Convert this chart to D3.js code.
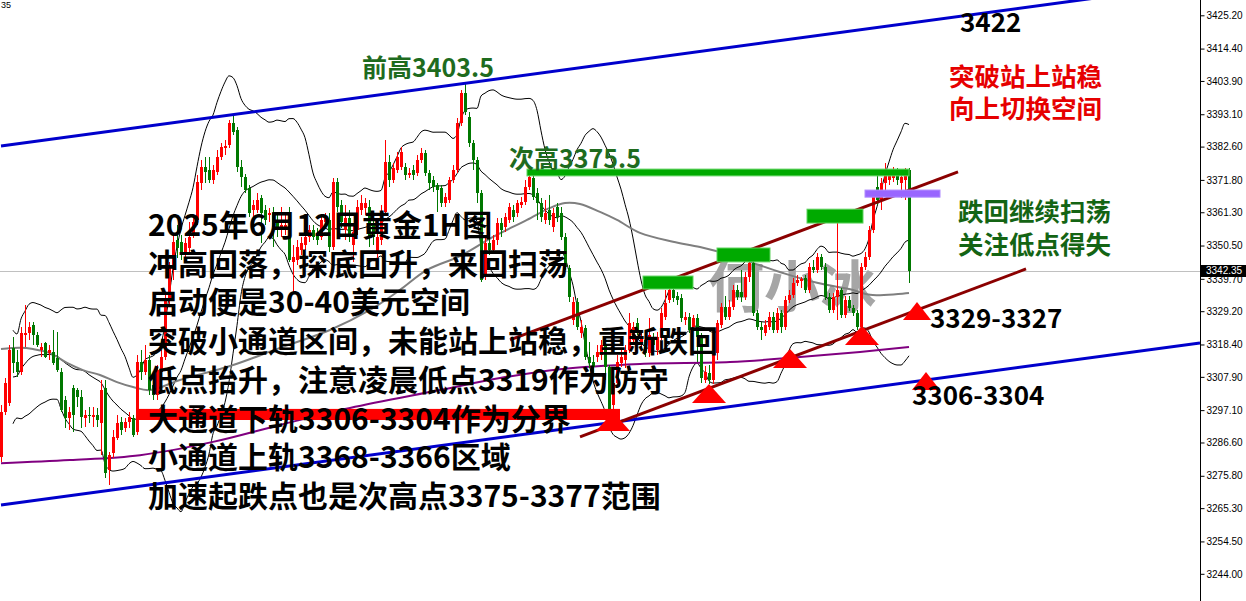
<!DOCTYPE html>
<html><head><meta charset="utf-8">
<script src="https://cdn.jsdelivr.net/npm/d3@7"></script>
<style>
html,body{margin:0;padding:0;background:#fff;overflow:hidden}
svg{display:block}
</style></head><body>
<svg id="c" width="1246" height="601"></svg>
<script>
// ---- candle data (XAUUSD H1) ----
const opens=[3281.9,3296.5,3299.4,3317.3,3312.7,3309.5,3321.5,3322.1,3324.7,3321.5,3316.6,3318.9,3315.6,3316.0,3314.0,3309.5,3300.4,3294.5,3304.3,3303.6,
3301.4,3294.5,3295.5,3294.9,3295.5,3292.9,3304.3,3277.7,3283.2,3288.1,3293.2,3291.3,3293.2,3294.5,3290.0,3312.7,3309.5,3313.4,3305.3,3302.0,
3309.5,3314.3,3332.8,3342.6,3352.3,3351.7,3348.1,3349.7,3353.9,3358.8,3370.8,3376.0,3375.0,3371.8,3374.4,3379.2,3382.1,3383.1,3390.3,3388.0,
3376.0,3372.7,3369.2,3362.0,3362.0,3365.9,3362.0,3360.4,3361.1,3358.1,3355.5,3356.2,3353.3,3345.2,3345.8,3349.1,3350.7,3353.3,3355.5,3354.6,
3353.3,3358.1,3358.8,3350.0,3371.1,3363.7,3355.5,3359.4,3350.7,3355.5,3362.0,3362.7,3363.0,3357.2,3348.1,3352.3,3361.4,3377.6,3371.8,3375.0,
3376.0,3376.0,3373.4,3375.0,3374.0,3378.3,3380.5,3374.0,3371.8,3370.1,3369.2,3364.3,3365.3,3371.8,3375.0,3390.3,3400.0,3392.2,3383.8,3378.3,
3367.5,3340.9,3351.3,3349.1,3352.3,3357.8,3356.5,3358.8,3362.0,3361.1,3363.7,3364.6,3369.5,3372.4,3367.5,3364.3,3358.8,3362.0,3356.5,3363.0,
3361.1,3353.3,3343.2,3326.3,3332.2,3322.1,3323.8,3314.3,3312.7,3314.3,3315.0,3318.2,3311.1,3298.8,3305.9,3312.4,3313.4,3316.6,3319.9,3325.4,
3318.9,3319.9,3315.6,3320.5,3316.6,3320.8,3327.3,3332.8,3336.1,3334.1,3333.5,3326.3,3327.3,3324.1,3327.0,3320.8,3306.9,3309.1,3306.9,3315.6,
3324.7,3330.6,3327.3,3330.6,3336.1,3335.4,3333.8,3340.3,3344.8,3328.6,3324.1,3322.1,3324.1,3327.3,3323.1,3328.6,3324.1,3332.8,3334.5,3338.4,
3339.0,3339.9,3336.1,3343.5,3342.6,3346.8,3343.5,3333.8,3329.6,3333.8,3336.1,3328.0,3332.8,3330.2,3328.6,3324.1,3343.5,3346.8,3355.5,3369.5,
3365.3,3370.8,3371.8,3372.4,3374.4,3370.8,3371.8,3375.0];
const highs=[3298.8,3307.5,3318.2,3320.8,3316.6,3324.1,3331.2,3325.7,3325.7,3322.5,3318.9,3319.2,3318.2,3323.1,3322.5,3310.8,3301.7,3298.1,3305.3,3304.3,
3303.6,3297.1,3298.1,3298.1,3297.8,3306.9,3306.9,3283.5,3290.7,3295.5,3294.9,3294.5,3296.5,3295.5,3315.0,3316.6,3318.2,3315.0,3308.5,3311.7,
3316.6,3334.5,3345.2,3353.9,3357.2,3353.9,3352.9,3358.1,3360.4,3373.4,3378.3,3379.2,3379.2,3376.6,3381.5,3383.8,3384.7,3391.2,3392.5,3389.0,
3378.3,3373.7,3370.1,3365.3,3367.5,3366.9,3363.7,3362.7,3363.0,3360.4,3363.0,3361.4,3363.0,3350.7,3352.3,3353.3,3355.5,3357.2,3357.2,3356.2,
3360.4,3361.1,3361.1,3372.4,3372.4,3365.3,3363.7,3362.0,3357.2,3365.3,3366.9,3365.9,3365.3,3358.8,3354.6,3363.7,3384.7,3379.9,3377.3,3380.8,
3382.5,3377.3,3375.7,3376.6,3379.9,3382.1,3381.5,3375.0,3373.1,3370.8,3370.1,3367.5,3372.7,3376.6,3391.9,3401.0,3403.5,3393.8,3384.7,3379.2,
3368.5,3352.9,3354.9,3353.9,3359.4,3359.4,3361.1,3364.3,3363.7,3365.3,3366.2,3371.8,3375.5,3373.4,3369.2,3365.9,3365.3,3366.9,3362.7,3364.3,
3363.0,3354.6,3344.2,3333.8,3333.5,3326.3,3324.7,3319.2,3315.0,3318.2,3319.9,3318.9,3311.7,3307.5,3315.0,3316.6,3318.2,3328.6,3325.7,3327.0,
3323.1,3322.1,3327.0,3322.1,3322.5,3330.2,3336.1,3337.1,3337.4,3335.4,3334.8,3328.9,3328.6,3328.0,3328.3,3322.1,3311.4,3311.7,3316.6,3326.3,
3331.9,3334.1,3332.8,3337.7,3337.7,3342.6,3341.9,3345.8,3345.8,3329.6,3325.7,3326.3,3328.9,3328.9,3330.2,3329.6,3334.1,3336.1,3340.0,3340.9,
3340.3,3340.9,3344.8,3345.8,3348.1,3347.8,3344.8,3335.1,3335.1,3357.8,3336.7,3334.1,3334.1,3331.2,3329.6,3344.8,3348.4,3356.8,3367.2,3374.0,
3372.4,3377.3,3375.0,3376.0,3375.7,3375.0,3375.7,3375.7];
const lows=[3280.3,3295.5,3298.4,3309.1,3307.8,3308.5,3317.6,3319.9,3318.2,3317.6,3314.3,3314.0,3313.4,3311.7,3309.5,3296.5,3291.3,3290.7,3290.0,3298.1,
3291.3,3291.6,3292.9,3291.6,3291.6,3282.5,3275.1,3272.8,3281.6,3287.4,3289.0,3290.0,3291.3,3288.4,3289.0,3306.9,3308.5,3302.0,3300.4,3300.4,
3308.5,3313.4,3331.2,3339.3,3346.5,3345.8,3346.5,3348.4,3352.9,3357.2,3368.5,3370.8,3370.8,3370.5,3373.4,3378.3,3379.9,3382.1,3386.4,3374.4,
3369.5,3367.5,3359.8,3359.4,3361.1,3351.3,3357.2,3358.1,3350.0,3353.3,3353.3,3353.9,3345.2,3335.1,3344.2,3347.4,3349.1,3351.7,3352.3,3350.7,
3352.3,3356.2,3348.4,3349.1,3361.4,3356.2,3352.3,3351.7,3345.2,3353.9,3360.4,3360.4,3350.0,3350.7,3346.5,3350.7,3360.4,3369.5,3370.8,3374.0,
3375.0,3371.8,3372.4,3371.8,3373.1,3377.3,3373.1,3368.5,3367.9,3361.4,3363.0,3363.0,3364.3,3370.8,3374.0,3389.3,3392.9,3382.5,3375.0,3364.3,
3338.7,3339.3,3347.4,3347.8,3350.7,3353.3,3354.9,3357.8,3358.1,3359.8,3362.7,3363.7,3368.5,3365.3,3358.8,3358.1,3357.5,3357.2,3354.9,3358.1,
3352.3,3342.6,3332.2,3324.7,3323.1,3320.5,3313.4,3310.8,3308.5,3312.7,3313.4,3306.9,3293.9,3295.5,3305.3,3311.1,3310.8,3315.6,3318.2,3321.5,
3317.3,3314.3,3314.3,3316.6,3315.0,3319.9,3326.3,3331.9,3332.2,3331.2,3325.7,3324.7,3322.1,3323.1,3312.7,3305.9,3305.9,3305.6,3305.6,3313.4,
3323.8,3326.3,3326.3,3329.6,3332.8,3332.2,3332.8,3338.7,3327.6,3323.1,3319.9,3321.2,3323.1,3322.1,3322.1,3322.1,3323.1,3331.9,3333.5,3337.4,
3336.7,3335.1,3335.1,3341.6,3341.6,3342.6,3332.8,3328.6,3328.6,3326.3,3327.0,3327.0,3329.3,3327.6,3323.1,3322.5,3342.6,3345.8,3354.6,3363.7,
3362.0,3367.9,3370.1,3371.1,3370.1,3365.9,3365.3,3338.4];
const closes=[3296.5,3305.9,3316.6,3312.4,3309.5,3322.1,3322.1,3324.1,3321.5,3318.2,3317.6,3314.3,3316.6,3312.4,3310.1,3297.1,3294.5,3296.5,3295.5,3301.4,
3294.9,3295.5,3295.2,3295.5,3293.9,3303.6,3276.7,3282.5,3288.4,3292.9,3290.7,3293.2,3294.9,3289.0,3312.7,3309.5,3313.4,3303.6,3302.0,3310.1,
3314.3,3332.8,3343.5,3351.7,3349.7,3348.4,3351.3,3353.3,3358.1,3371.1,3376.0,3374.4,3371.8,3375.0,3379.2,3382.5,3382.8,3390.3,3387.3,3376.0,
3372.7,3368.5,3361.1,3363.7,3365.3,3361.1,3358.8,3361.1,3356.5,3355.5,3357.2,3357.2,3345.8,3346.8,3350.0,3351.3,3353.3,3355.5,3353.3,3352.3,
3358.8,3359.4,3350.0,3371.1,3363.0,3358.1,3359.4,3353.3,3354.9,3363.0,3364.3,3364.3,3352.9,3353.3,3353.3,3361.4,3377.6,3371.8,3375.7,3379.2,
3380.8,3373.4,3374.0,3373.4,3378.3,3380.5,3374.0,3370.8,3369.5,3368.5,3364.3,3366.2,3371.8,3375.0,3390.3,3400.0,3393.8,3383.8,3378.3,3367.5,
3339.3,3351.3,3349.1,3352.3,3357.8,3355.5,3359.8,3363.0,3359.8,3364.3,3364.6,3369.5,3372.7,3366.2,3364.3,3359.8,3361.1,3358.8,3361.1,3359.8,
3353.3,3343.5,3333.8,3332.2,3324.1,3324.1,3314.3,3312.4,3311.1,3316.0,3318.2,3311.1,3297.1,3305.9,3312.7,3314.3,3316.6,3325.4,3324.1,3323.1,
3320.8,3315.6,3321.5,3318.2,3320.8,3328.6,3331.9,3336.1,3333.5,3332.8,3327.0,3327.3,3323.1,3327.0,3320.8,3307.5,3309.5,3306.9,3315.6,3325.4,
3330.6,3327.3,3330.6,3336.1,3333.8,3333.8,3340.3,3344.8,3328.6,3324.1,3323.1,3324.7,3327.3,3323.1,3328.6,3324.1,3332.8,3334.5,3338.4,3339.3,
3339.6,3336.1,3343.5,3342.6,3346.8,3343.5,3333.8,3329.6,3333.8,3336.1,3328.0,3332.8,3330.2,3328.6,3324.1,3343.5,3346.8,3355.5,3366.2,3365.3,
3370.8,3374.0,3373.4,3374.4,3371.8,3372.7,3374.4,3342.35];

// ---- axis ----
const axisTicks=[3425.20,3414.40,3403.90,3393.10,3382.60,3371.80,3361.30,3350.50,3339.70,3329.20,3318.40,3307.90,3297.10,3286.60,3275.80,3265.30,3254.50,3244.00];
const lastPrice=3342.35;

// ---- indicator lines: [bar index, price] ----
const grayMA=[[0,3316.9],[4.75,3317.3],[8,3316.9],[12.25,3315.6],[16.5,3312.4],[20.5,3310.1],[24.75,3308.5],[29,3306.2],[33,3304.6],[37.25,3303.6],
[44.75,3306.9],[57.25,3311.4],[69.75,3317.3],[82.25,3323.1],[92.25,3329.6],[99.75,3336.1],[106.5,3342.6],[114.75,3347.1],[123,3353.3],[131.5,3358.8],
[137.25,3362.7],[141,3364.3],[144.75,3364.0],[149.75,3361.4],[154,3358.8],[159.75,3354.6],[168,3351.7],[174.75,3350.0],[182.25,3347.4],[187.25,3345.2],
[195.5,3341.6],[204,3338.4],[213,3336.1],[217.25,3334.5],[227,3335.1]];
const purpleMA=[[0,3279.9],[17.25,3280.9],[34.75,3282.5],[53,3286.8],[69.75,3292.3],[87.25,3297.8],[109.75,3303.6],[124.75,3307.5],[139.75,3310.4],
[159.75,3312.1],[182.25,3312.7],[199.75,3314.3],[214.75,3316.0],[227,3317.6]];

// ---- drawn trend lines: [[index,price],[index,price]] ----
const bigChannel=[[[0,3382.8],[299.75,3435.4]],[[0,3266.3],[299.75,3318.9]]];
const smallChannel=[[[127.25,3319.9],[239.25,3374.4]],[[144.75,3288.4],[256.25,3342.9]]];

// ---- zones: [startIndex, endIndex, topPrice, bottomPrice] ----
const greenZones=[[131.5,227,3375.3,3373.1],[160.5,173,3340.6,3336.4],[179,192.25,3349.7,3345.2],[201.5,215.5,3362.3,3357.8]];
const purpleZones=[[216,234.75,3368.5,3366.2]];
const redZones=[[34,154.75,3297.5,3293.9]];
const triangles=[[153,3296.5],[177,3305.6],[197.25,3316.9],[215.25,3324.4],[229,3332.2],[231.25,3309.5]];

// ---- texts ----
const mainLines=["2025年6月12日黄金1H图","冲高回落，探底回升，来回扫荡","启动便是30-40美元空间","突破小通道区间，未能站上站稳，重新跌回","低点抬升，注意凌晨低点3319作为防守","大通道下轨3306-3304作为分界","小通道上轨3368-3366区域","加速起跌点也是次高点3375-3377范围"];
const redNotes=["突破站上站稳","向上切换空间"];
const greenNotes=["跌回继续扫荡","关注低点得失"];

const svg=d3.select("#c");
const W=1246,H=601,AX=1200;
const x=d3.scaleLinear().domain([0,227]).range([1,909]);
const y=d3.scaleLinear().domain([3244.0,3425.2]).range([573.8,15.3]);
const CJK='"Noto Sans CJK SC","Noto Sans",sans-serif';

svg.append("rect").attr("width",W).attr("height",H).attr("fill","#fff");
svg.append("defs").append("clipPath").attr("id","plot").append("rect").attr("x",0).attr("y",0).attr("width",AX).attr("height",H);
const g=svg.append("g").attr("clip-path","url(#plot)");

// current price line
g.append("line").attr("x1",0).attr("x2",AX).attr("y1",Math.round(y(lastPrice))+0.5).attr("y2",Math.round(y(lastPrice))+0.5)
 .attr("stroke","#c0c0c0").attr("stroke-width",1);

// watermark
g.append("text").attr("x",708).attr("y",307).text("何小冰")
 .attr("font-family",CJK).attr("font-weight",700).attr("font-size",56).attr("fill","#a6a6a6");

// Bollinger bands (20,2) from closes
const bb=closes.map((c,i)=>{const s=Math.max(0,i-19);const w=closes.slice(s,i+1);const m=d3.mean(w);
  const sd=Math.sqrt(d3.mean(w,v=>(v-m)*(v-m)));return {i,m,u:m+2*sd,l:m-2*sd};}).filter(d=>d.i>=3);
["u","m","l"].forEach(k=>{
  g.append("path").datum(bb).attr("fill","none").attr("stroke","#000").attr("stroke-width",1)
   .attr("d",d3.line().x(d=>x(d.i)).y(d=>y(d[k])).curve(d3.curveMonotoneX));
});
// gray MA & purple MA
g.append("path").datum(grayMA).attr("fill","none").attr("stroke","#7f7f7f").attr("stroke-width",2)
 .attr("d",d3.line().x(d=>x(d[0])).y(d=>y(d[1])).curve(d3.curveCatmullRom));
g.append("path").datum(purpleMA).attr("fill","none").attr("stroke","#800080").attr("stroke-width",2)
 .attr("d",d3.line().x(d=>x(d[0])).y(d=>y(d[1])).curve(d3.curveCatmullRom));

// candles
const UP="#ff0000",DN="#007800";
const cg=g.append("g");
closes.forEach((c,i)=>{
  const o=opens[i],col=c>=o?UP:DN,cx=Math.round(x(i));
  cg.append("rect").attr("x",cx).attr("width",1).attr("y",Math.round(y(highs[i])))
    .attr("height",Math.max(1,Math.round(y(lows[i]))-Math.round(y(highs[i])))).attr("fill",col);
  const t=Math.round(y(Math.max(o,c))),b=Math.round(y(Math.min(o,c)));
  cg.append("rect").attr("x",cx-1).attr("width",3).attr("y",t).attr("height",Math.max(1,b-t)).attr("fill",col);
});

// red zone
redZones.forEach(z=>g.append("rect").attr("x",x(z[0])).attr("width",x(z[1])-x(z[0])).attr("y",y(z[2])).attr("height",y(z[3])-y(z[2]))
 .attr("fill","#ff0000"));
// channels
const tl=d3.line().x(d=>x(d[0])).y(d=>y(d[1]));
bigChannel.forEach(l=>g.append("path").attr("d",tl(l)).attr("stroke","#0000cc").attr("stroke-width",3).attr("fill","none"));
smallChannel.forEach(l=>g.append("path").attr("d",tl(l)).attr("stroke","#8b0000").attr("stroke-width",3).attr("fill","none"));
// zones
greenZones.forEach(z=>g.append("rect").attr("x",x(z[0])).attr("width",x(z[1])-x(z[0])).attr("y",y(z[2])).attr("height",y(z[3])-y(z[2]))
 .attr("fill","#00aa00").attr("stroke","#5fd35f").attr("stroke-width",1));
purpleZones.forEach(z=>g.append("rect").attr("x",x(z[0])).attr("width",x(z[1])-x(z[0])).attr("y",y(z[2])).attr("height",y(z[3])-y(z[2]))
 .attr("fill","#9966ff").attr("stroke","#b08cff").attr("stroke-width",1));
// triangles
triangles.forEach((t,k)=>{const ax=x(t[0]),ay=y(t[1]);const hw=k>=4?14:17,h=k>=4?18:19;
  g.append("path").attr("d",`M${ax},${ay}L${ax+hw},${ay+h}L${ax-hw},${ay+h}Z`).attr("fill","#ff0000");});

// texts
const T=(s,xx,yy,size,col)=>svg.append("text").attr("x",xx).attr("y",yy).text(s).attr("font-family",CJK)
  .attr("font-weight",700).attr("font-size",size).attr("fill",col);
const block=(lines,xx,yy,size,col,step)=>{const t=svg.append("text").attr("x",xx).attr("y",yy).attr("font-family",CJK)
  .attr("font-weight",700).attr("font-size",size).attr("fill",col);
  lines.forEach((s,i)=>t.append("tspan").attr("x",xx).attr("dy",i?step:0).text(s));};
block(mainLines,148,236,30,"#000",38.7);
T("前高3403.5",362,77,25,"#1e6b1e");
T("次高3375.5",509,168,25,"#1e6b1e");
T("3422",960,32,26,"#000");
block(redNotes,949,86,25.5,"#e60000",32);
block(greenNotes,958,221,25.5,"#146414",33);
T("3329-3327",930,328,26,"#000");
T("3306-3304",912,405,26,"#000");
svg.append("text").attr("x",1).attr("y",8).text("35").attr("font-family","Liberation Sans, Arial").attr("font-size",9).attr("fill","#000");

// axis
svg.append("line").attr("x1",AX+0.5).attr("x2",AX+0.5).attr("y1",0).attr("y2",H).attr("stroke","#000");
const ax=svg.append("g").attr("transform",`translate(${AX+0.5},0)`)
  .call(d3.axisRight(y).tickValues(axisTicks).tickFormat(d3.format(".2f")).tickSize(4).tickSizeOuter(0).tickPadding(2));
ax.select(".domain").remove();
ax.selectAll("text").attr("font-family","Liberation Sans, Arial").attr("font-size",10).attr("fill","#000");
ax.selectAll("line").attr("stroke","#000");
// last price label
const ly=y(lastPrice);
svg.append("rect").attr("x",AX+1).attr("y",Math.round(ly)-6).attr("width",W-AX-1).attr("height",12).attr("fill","#000");
svg.append("text").attr("x",AX+6).attr("y",ly+3.5).text(lastPrice.toFixed(2)).attr("font-family","Liberation Sans, Arial").attr("font-size",10).attr("fill","#fff");
</script>
</body></html>
